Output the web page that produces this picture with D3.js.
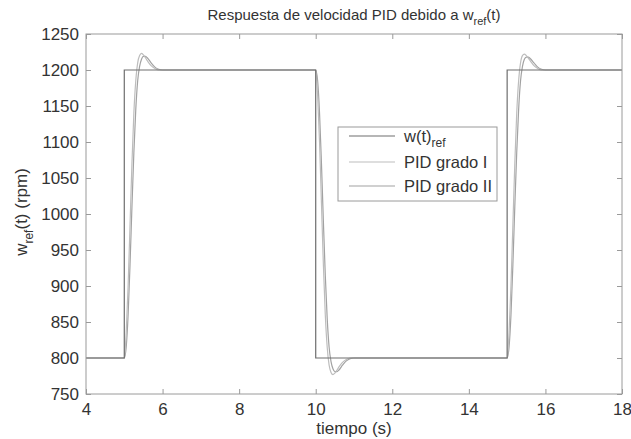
<!DOCTYPE html>
<html>
<head>
<meta charset="utf-8">
<script src="https://cdn.jsdelivr.net/npm/d3@7"></script>
<style>
  html, body { margin: 0; padding: 0; background: #fff; }
  svg { display: block; }
  text { font-family: "Liberation Sans", Arial, sans-serif; fill: #333; }
</style>
</head>
<body>
<svg id="chart" width="631" height="439"></svg>
<script>
// Reference speed (step changes)
const refTime = [4, 5, 5, 10, 10, 15, 15, 18];
const refSpeed = [800, 800, 1200, 1200, 800, 800, 1200, 1200];

// PID grado I response
const pid1Time = [4, 5.00, 5.05, 5.10, 5.15, 5.20, 5.25, 5.30, 5.35, 5.40, 5.45, 5.50, 5.60, 5.70, 5.80, 5.90, 6.00,
  10.00, 10.05, 10.10, 10.15, 10.20, 10.25, 10.30, 10.35, 10.40, 10.45, 10.50, 10.60, 10.70, 10.80, 10.90, 11.00,
  15.00, 15.05, 15.10, 15.15, 15.20, 15.25, 15.30, 15.35, 15.40, 15.45, 15.50, 15.60, 15.70, 15.80, 15.90, 16.00, 18];
const pid1Speed = [800, 800, 835, 900, 985, 1070, 1140, 1185, 1210, 1220, 1223, 1221, 1213, 1206, 1202, 1200, 1200,
  1200, 1165, 1100, 1015, 930, 860, 815, 790, 780, 777, 779, 787, 794, 798, 800, 800,
  800, 835, 900, 985, 1070, 1140, 1185, 1210, 1220, 1222, 1220, 1213, 1206, 1202, 1200, 1200, 1200];

// PID grado II response
const pid2Time = [4, 5.00, 5.05, 5.10, 5.15, 5.20, 5.25, 5.30, 5.35, 5.40, 5.45, 5.50, 5.55, 5.60, 5.70, 5.80, 5.90, 6.00,
  10.00, 10.05, 10.10, 10.15, 10.20, 10.25, 10.30, 10.35, 10.40, 10.45, 10.50, 10.55, 10.60, 10.70, 10.80, 10.90, 11.00,
  15.00, 15.05, 15.10, 15.15, 15.20, 15.25, 15.30, 15.35, 15.40, 15.45, 15.50, 15.55, 15.60, 15.70, 15.80, 15.90, 16.00, 18];
const pid2Speed = [800, 800, 815, 860, 930, 1010, 1085, 1145, 1185, 1205, 1215, 1219, 1219, 1217, 1210, 1204, 1201, 1200,
  1200, 1185, 1140, 1070, 990, 915, 855, 815, 795, 785, 781, 781, 783, 790, 796, 799, 800,
  800, 815, 860, 930, 1010, 1085, 1145, 1185, 1205, 1215, 1218, 1218, 1216, 1210, 1204, 1201, 1200, 1200];

const xTicks = [4, 6, 8, 10, 12, 14, 16, 18];
const yTicks = [750, 800, 850, 900, 950, 1000, 1050, 1100, 1150, 1200, 1250];

const series = [
  { name: "w(t)", sub: "ref", time: refTime, speed: refSpeed, color: "#6e6e6e", curve: d3.curveLinear },
  { name: "PID grado I", sub: null, time: pid1Time, speed: pid1Speed, color: "#bdbdbd", curve: d3.curveMonotoneX },
  { name: "PID grado II", sub: null, time: pid2Time, speed: pid2Speed, color: "#a2a2a2", curve: d3.curveMonotoneX }
];

const svg = d3.select("#chart");
const plotLeft = 86, plotRight = 622, plotTop = 34, plotBottom = 394;

const x = d3.scaleLinear().domain([4, 18]).range([plotLeft, plotRight]);
const y = d3.scaleLinear().domain([750, 1250]).range([plotBottom, plotTop]);

// Plot lines
svg.append("clipPath").attr("id", "plotclip")
  .append("rect").attr("x", plotLeft).attr("y", plotTop)
  .attr("width", plotRight - plotLeft).attr("height", plotBottom - plotTop);

const plot = svg.append("g").attr("clip-path", "url(#plotclip)");
series.slice().reverse().forEach(s => {
  const pts = s.time.map((t, i) => [t, s.speed[i]]);
  plot.append("path")
    .attr("d", d3.line().x(d => x(d[0])).y(d => y(d[1])).curve(s.curve)(pts))
    .attr("fill", "none")
    .attr("stroke", s.color)
    .attr("stroke-width", 1.2);
});

// Axes (ticks inward, box on all sides)
const tickLen = 5;
const axisColor = "#9a9a9a";
const labelSize = 17;
const axStyle = g => {
  g.select(".domain").remove();
  g.selectAll(".tick line").attr("stroke", axisColor);
  g.selectAll(".tick text").attr("font-size", labelSize).attr("fill", "#333")
    .attr("font-family", "Liberation Sans, Arial, sans-serif");
};

svg.append("g").attr("transform", `translate(0,${plotBottom})`)
  .call(d3.axisBottom(x).tickValues(xTicks).tickFormat(d3.format("d")).tickSizeInner(-tickLen).tickPadding(9))
  .call(axStyle);
svg.append("g").attr("transform", `translate(0,${plotTop})`)
  .call(d3.axisTop(x).tickValues(xTicks).tickFormat("").tickSizeInner(-tickLen))
  .call(axStyle);
svg.append("g").attr("transform", `translate(${plotLeft},0)`)
  .call(d3.axisLeft(y).tickValues(yTicks).tickFormat(d3.format("d")).tickSizeInner(-tickLen).tickPadding(7))
  .call(axStyle);
svg.append("g").attr("transform", `translate(${plotRight},0)`)
  .call(d3.axisRight(y).tickValues(yTicks).tickFormat("").tickSizeInner(-tickLen))
  .call(axStyle);

svg.append("rect")
  .attr("x", plotLeft).attr("y", plotTop).attr("width", plotRight - plotLeft).attr("height", plotBottom - plotTop)
  .attr("fill", "none").attr("stroke", axisColor).attr("stroke-width", 1);

// Title
const title = svg.append("text").attr("x", 354).attr("y", 20).attr("text-anchor", "middle").attr("font-size", 15);
title.append("tspan").text("Respuesta de velocidad PID debido a w");
title.append("tspan").attr("dy", 5).attr("font-size", 11).text("ref");
title.append("tspan").attr("dy", -5).text("(t)");

// X label
svg.append("text").attr("x", 354).attr("y", 434).attr("text-anchor", "middle").attr("font-size", labelSize).text("tiempo (s)");

// Y label
const yl = svg.append("text").attr("transform", "translate(27,212) rotate(-90)")
  .attr("text-anchor", "middle").attr("font-size", labelSize);
yl.append("tspan").text("w");
yl.append("tspan").attr("dy", 6).attr("font-size", 12).text("ref");
yl.append("tspan").attr("dy", -6).text("(t) (rpm)");

// Legend
const lg = svg.append("g");
lg.append("rect").attr("x", 338).attr("y", 127).attr("width", 159).attr("height", 74)
  .attr("fill", "#fff").attr("stroke", axisColor).attr("stroke-width", 1);
const rowsY = [136, 162, 186];
series.forEach((s, i) => {
  lg.append("line").attr("x1", 349).attr("x2", 395).attr("y1", rowsY[i]).attr("y2", rowsY[i])
    .attr("stroke", s.color).attr("stroke-width", 1.2);
  const t = lg.append("text").attr("x", 404).attr("y", rowsY[i] + 6).attr("font-size", 16.5);
  t.append("tspan").text(s.name);
  if (s.sub) t.append("tspan").attr("dy", 5).attr("font-size", 12).text(s.sub);
});
</script>
</body>
</html>
